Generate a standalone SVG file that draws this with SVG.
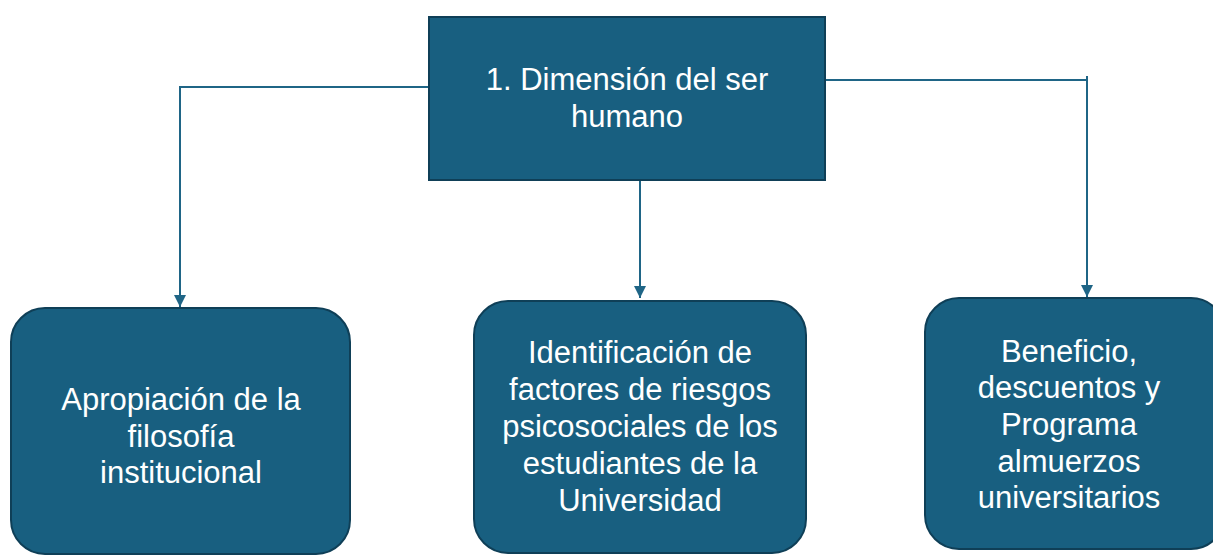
<svg xmlns="http://www.w3.org/2000/svg" width="1213" height="556" viewBox="0 0 1213 556">
<style>
.box{fill:#185f80;stroke:#0f3f57;stroke-width:2}
.t{font-family:"Comic Sans MS","Liberation Sans",Arial,sans-serif;font-size:31px;fill:#ffffff;text-anchor:middle}
.c{fill:none;stroke:#1f6586;stroke-width:2}
</style>
<defs>
<marker id="ah" viewBox="0 0 10 10" refX="10" refY="5" markerWidth="6" markerHeight="6" orient="auto" markerUnits="strokeWidth">
<path d="M0,0 L10,5 L0,10 z" fill="#1f6586"/>
</marker>
</defs>
<rect width="1213" height="556" fill="#ffffff"/>
<g id="connectors">
<path class="c" d="M429,87 H180 V307" marker-end="url(#ah)"/>
<path class="c" d="M640,180 V298" marker-end="url(#ah)"/>
<path class="c" d="M825,80 H1087"/>
<path class="c" d="M1087,76 V297" marker-end="url(#ah)"/>
</g>
<g id="n1">
<rect class="box" x="429" y="17" width="396" height="163"/>
<text class="t" x="627" y="90">1. Dimensión del ser</text>
<text class="t" x="627" y="127">humano</text>
</g>
<g id="n2">
<rect class="box" x="11" y="308" width="339" height="246" rx="34"/>
<text class="t" x="181" y="410">Apropiación de la</text>
<text class="t" x="181" y="447">filosofía</text>
<text class="t" x="181" y="483">institucional</text>
</g>
<g id="n3">
<rect class="box" x="474" y="301" width="332" height="252" rx="34"/>
<text class="t" x="640" y="363">Identificación de</text>
<text class="t" x="640" y="400">factores de riesgos</text>
<text class="t" x="640" y="437">psicosociales de los</text>
<text class="t" x="640" y="474">estudiantes de la</text>
<text class="t" x="640" y="511">Universidad</text>
</g>
<g id="n4">
<rect class="box" x="925" y="298" width="300" height="251" rx="34"/>
<text class="t" x="1069" y="362">Beneficio,</text>
<text class="t" x="1069" y="398">descuentos y</text>
<text class="t" x="1069" y="435">Programa</text>
<text class="t" x="1069" y="472">almuerzos</text>
<text class="t" x="1069" y="508">universitarios</text>
</g>
</svg>
